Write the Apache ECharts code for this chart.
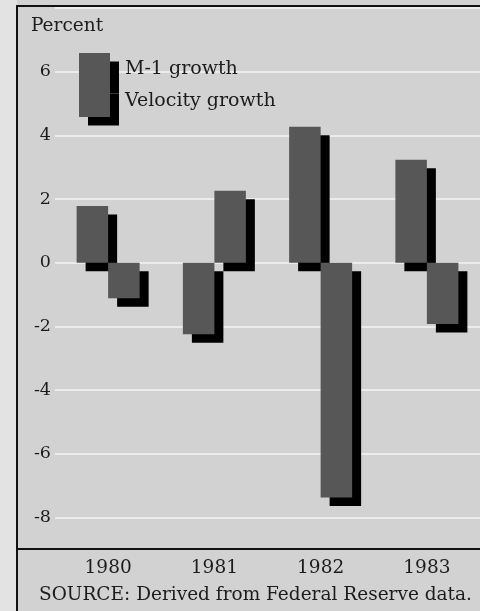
<!DOCTYPE html>
<html>
<head>
<meta charset="utf-8">
<script src="https://cdn.jsdelivr.net/npm/echarts@6/dist/echarts.min.js"></script>
<style>
html,body{margin:0;padding:0;background:#d2d2d2;}
#chart{width:480px;height:611px;}
</style>
</head>
<body>
<div id="chart"></div>
<script>
var years = ['1980', '1981', '1982', '1983'];
var m1Growth = [1.78, -2.24, 4.27, 3.23];
var velocityGrowth = [-1.11, 2.26, -7.37, -1.92];
var seriesNames = ['M-1 growth', 'Velocity growth'];
var unitLabel = 'Percent';
var sourceNote = 'SOURCE: Derived from Federal Reserve data.';

var FONT = 'DejaVu Serif';
var INK = '#1c1c1c';
var barStyle = {
  color: '#575757',
  borderWidth: 0,
  shadowColor: '#000000',
  shadowBlur: 0,
  shadowOffsetX: 9,
  shadowOffsetY: 8.5
};

var chart = echarts.init(document.getElementById('chart'), null, {renderer: 'canvas'});
chart.setOption({
  backgroundColor: '#d2d2d2',
  animation: false,
  title: [
    {text: unitLabel, left: 31, top: 17, padding: 0, textStyle: {fontFamily: FONT, fontSize: 18.5, fontWeight: 'normal', color: INK}},
    {text: sourceNote, left: 39, top: 586, padding: 0, textStyle: {fontFamily: FONT, fontSize: 18.5, fontWeight: 'normal', color: INK}}
  ],
  legend: {
    data: seriesNames,
    orient: 'vertical',
    left: 79,
    top: 53,
    itemWidth: 31,
    itemHeight: 32,
    itemGap: 0,
    icon: 'rect',
    padding: 0,
    itemStyle: barStyle,
    textStyle: {fontFamily: FONT, fontSize: 19, color: INK, padding: [0, 0, 0, 10]}
  },
  grid: {left: 55, right: -7, top: 7.9, bottom: 61.5, containLabel: false},
  xAxis: {
    type: 'category',
    data: years,
    axisLine: {show: false, onZero: false},
    axisTick: {show: false},
    axisLabel: {fontFamily: FONT, fontSize: 18.5, color: INK, margin: 9}
  },
  yAxis: {
    type: 'value',
    min: -9,
    max: 8,
    interval: 1,
    axisLine: {show: false},
    axisTick: {show: false},
    axisLabel: {
      fontFamily: FONT, fontSize: 17.5, color: INK, margin: 4,
      formatter: function (v) { return (v % 2 === 0 && v >= -8 && v <= 6) ? String(v) : ''; }
    },
    splitLine: {show: true, lineStyle: {color: ['rgba(0,0,0,0)', '#ececec'], width: 2}}
  },
  series: [
    {name: seriesNames[0], type: 'bar', data: m1Growth, barWidth: 31.5, barGap: '0%', itemStyle: barStyle, emphasis: {disabled: true}},
    {name: seriesNames[1], type: 'bar', data: velocityGrowth, barWidth: 31.5, barGap: '0%', itemStyle: barStyle, emphasis: {disabled: true}}
  ],
  graphic: [
    {type: 'rect', left: 0, top: 0, shape: {width: 17, height: 611}, style: {fill: '#e3e3e3'}, z: 100},
    {type: 'line', shape: {x1: 17, y1: 5, x2: 17, y2: 611}, style: {stroke: '#111', lineWidth: 2}, z: 101},
    {type: 'line', shape: {x1: 17, y1: 6, x2: 480, y2: 6}, style: {stroke: '#111', lineWidth: 2}, z: 101},
    {type: 'line', shape: {x1: 17, y1: 549, x2: 480, y2: 549}, style: {stroke: '#111', lineWidth: 2}, z: 101}
  ]
});
</script>
</body>
</html>
